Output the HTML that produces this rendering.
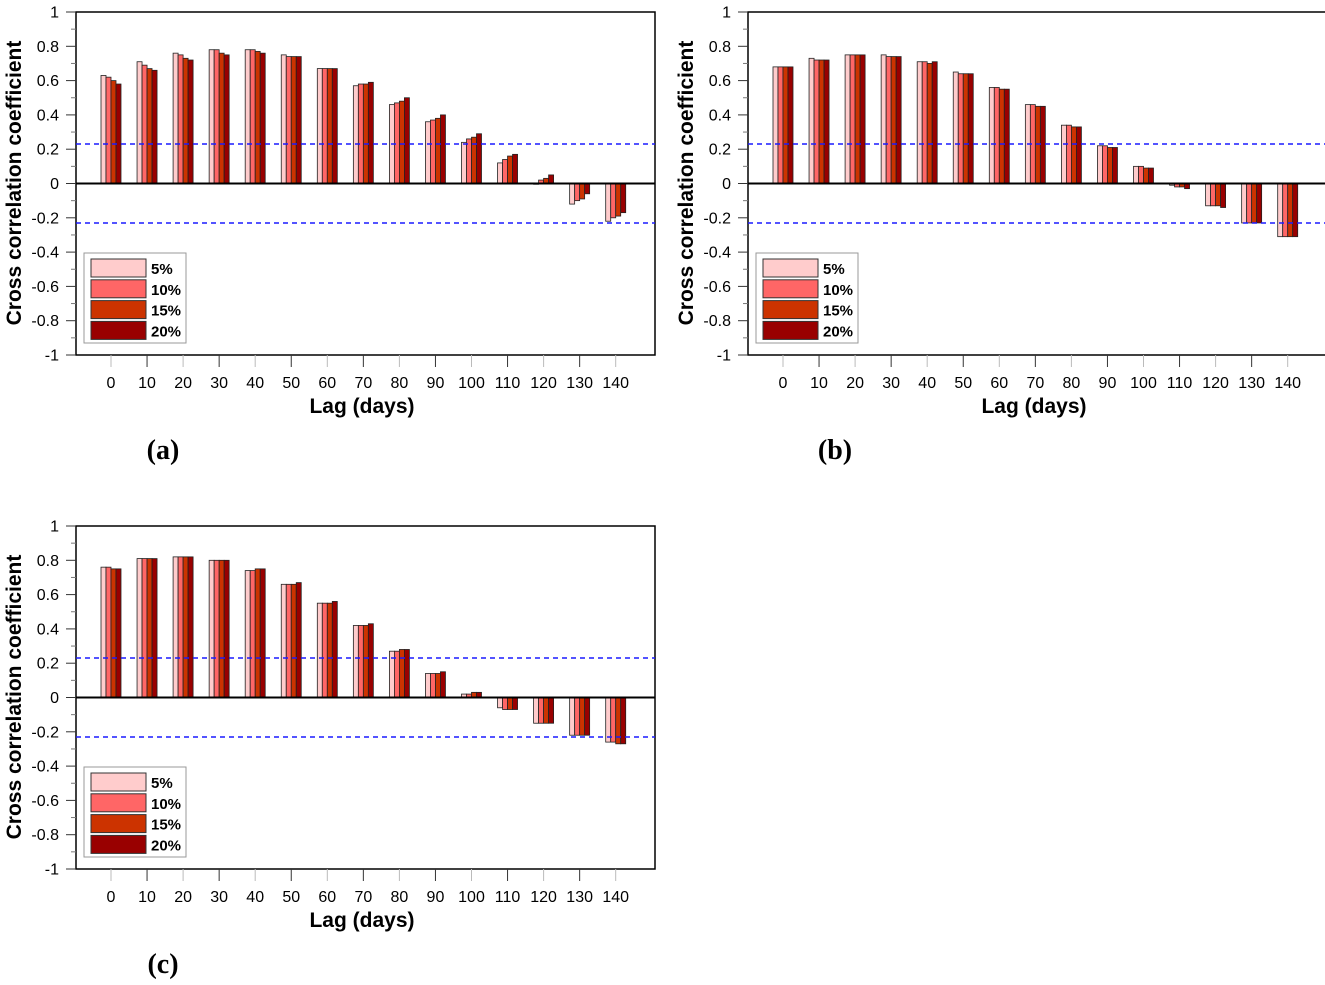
<!DOCTYPE html>
<html><head><meta charset="utf-8"><style>
html,body{margin:0;padding:0;background:#fff;}
svg{display:block;font-family:"Liberation Sans",Arial,sans-serif;}
</style></head><body>
<svg id="fig" width="1325" height="985" viewBox="0 0 1325 985" xmlns="http://www.w3.org/2000/svg"></svg>
<script>
const categories = [0,10,20,30,40,50,60,70,80,90,100,110,120,130,140];
const seriesNames = ["5%","10%","15%","20%"];
const yTicks = [1,0.8,0.6,0.4,0.2,0,-0.2,-0.4,-0.6,-0.8,-1];
const yTickLabels = ["1","0.8","0.6","0.4","0.2","0","-0.2","-0.4","-0.6","-0.8","-1"];
const confLevel = 0.23;
const panelA5 = [0.63,0.71,0.76,0.78,0.78,0.75,0.67,0.57,0.46,0.36,0.24,0.12,0.0,-0.12,-0.22];
const panelA10 = [0.62,0.69,0.75,0.78,0.78,0.74,0.67,0.58,0.47,0.37,0.26,0.14,0.02,-0.10,-0.20];
const panelA15 = [0.60,0.67,0.73,0.76,0.77,0.74,0.67,0.58,0.48,0.38,0.27,0.16,0.03,-0.09,-0.19];
const panelA20 = [0.58,0.66,0.72,0.75,0.76,0.74,0.67,0.59,0.50,0.40,0.29,0.17,0.05,-0.06,-0.17];
const panelB5 = [0.68,0.73,0.75,0.75,0.71,0.65,0.56,0.46,0.34,0.22,0.10,-0.01,-0.13,-0.23,-0.31];
const panelB10 = [0.68,0.72,0.75,0.74,0.71,0.64,0.56,0.46,0.34,0.22,0.10,-0.02,-0.13,-0.23,-0.31];
const panelB15 = [0.68,0.72,0.75,0.74,0.70,0.64,0.55,0.45,0.33,0.21,0.09,-0.02,-0.13,-0.23,-0.31];
const panelB20 = [0.68,0.72,0.75,0.74,0.71,0.64,0.55,0.45,0.33,0.21,0.09,-0.03,-0.14,-0.23,-0.31];
const panelC5 = [0.76,0.81,0.82,0.80,0.74,0.66,0.55,0.42,0.27,0.14,0.02,-0.06,-0.15,-0.22,-0.26];
const panelC10 = [0.76,0.81,0.82,0.80,0.74,0.66,0.55,0.42,0.27,0.14,0.02,-0.07,-0.15,-0.22,-0.26];
const panelC15 = [0.75,0.81,0.82,0.80,0.75,0.66,0.55,0.42,0.28,0.14,0.03,-0.07,-0.15,-0.22,-0.27];
const panelC20 = [0.75,0.81,0.82,0.80,0.75,0.67,0.56,0.43,0.28,0.15,0.03,-0.07,-0.15,-0.22,-0.27];
const colors = ["#ffcccc","#ff6666","#cc3300","#990000"];

const NS = "http://www.w3.org/2000/svg";
const svg = document.getElementById("fig");
function mk(tag, attrs, parent, text){
  const e = document.createElementNS(NS, tag);
  for (const k in attrs) e.setAttribute(k, attrs[k]);
  if (text !== undefined) e.textContent = text;
  (parent||svg).appendChild(e);
  return e;
}
function drawPanel(ox, oy, series, label, id){
  const g = mk("g", {transform:"translate("+ox+","+oy+")"});
  
  
  const L=76, R=655, T=12, B=355;
  const y = v => 183.5 - v*171.5;
  const x = i => 111 + i*36.05;
  const fr = mk("rect",{x:L,y:T,width:R-L,height:B-T,fill:"none",stroke:"#000","stroke-width":1.5},g);
  
  
  yTicks.forEach((t,k)=>{
    mk("line",{x1:66,x2:L,y1:y(t),y2:y(t),stroke:"#333","stroke-width":1},g);
    if (k<yTicks.length-1) mk("line",{x1:71,x2:L,y1:y(t-0.1),y2:y(t-0.1),stroke:"#777","stroke-width":1},g);
    const tl = mk("text",{x:59,y:y(t)+5.5,"text-anchor":"end","font-size":16,fill:"#000"},g,yTickLabels[k]);
    
    
  });
  categories.forEach((c,i)=>{
    mk("line",{x1:x(i),x2:x(i),y1:B,y2:B+12,stroke:i%2?"#333":"#bbb","stroke-width":1},g);
    const xl = mk("text",{x:x(i),y:388,"text-anchor":"middle","font-size":16,fill:"#000"},g,String(c));
    
    
  });
  series.forEach((vals,s)=>{
    vals.forEach((v,i)=>{
      const bx = x(i) - 10 + s*5;
      const y0 = y(0), y1 = y(v);
      const r = mk("rect",{x:bx,y:Math.min(y0,y1),width:5,height:Math.max(0.8,Math.abs(y1-y0)),fill:colors[s],stroke:"#222","stroke-width":0.8},g);
      
      
    });
  });
  mk("line",{x1:L,x2:R,y1:y(0),y2:y(0),stroke:"#000","stroke-width":2},g);
  [confLevel,-confLevel].forEach(c=>{
    const d = mk("line",{x1:L,x2:R,y1:y(c),y2:y(c),stroke:"#1a1aff","stroke-width":1.5,"stroke-dasharray":"5,4"},g);
    
    
  });
  const lg = mk("g",{},g);
  
  
  mk("rect",{x:84,y:253,width:102,height:90,fill:"#fff",stroke:"#999","stroke-width":1},lg);
  seriesNames.forEach((n,s)=>{
    mk("rect",{x:91,y:259+s*20.8,width:55,height:18,fill:colors[s],stroke:"#333","stroke-width":1},lg);
    const t = mk("text",{x:151,y:274+s*20.8,"font-size":15,"font-weight":"bold",fill:"#000"},lg,n);
    
    
  });
  const yt = mk("text",{x:0,y:0,transform:"translate(21,183) rotate(-90)","text-anchor":"middle","font-size":21,"font-weight":"bold",fill:"#000"},g,"Cross correlation coefficient");
  
  
  const xt = mk("text",{x:362,y:413,"text-anchor":"middle","font-size":21,"font-weight":"bold",fill:"#000"},g,"Lag (days)");
  
  
  const pl = mk("text",{x:163,y:459,"text-anchor":"middle","font-size":28,"font-weight":"bold","font-family":"Liberation Serif, serif",fill:"#000"},g,label);
  
  
}
drawPanel(0,0,[panelA5,panelA10,panelA15,panelA20],"(a)","a");
drawPanel(672,0,[panelB5,panelB10,panelB15,panelB20],"(b)","b");
drawPanel(0,514,[panelC5,panelC10,panelC15,panelC20],"(c)","c");
</script>
</body></html>
